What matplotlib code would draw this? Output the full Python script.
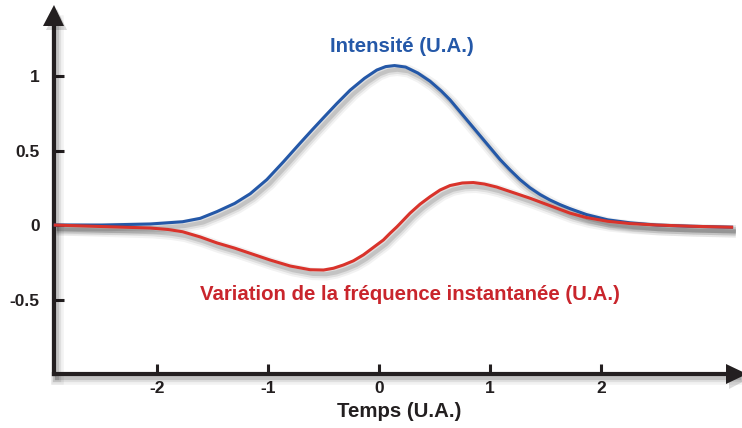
import matplotlib
matplotlib.use("Agg")
import matplotlib.pyplot as plt
import matplotlib.patheffects as pe

# values (time in U.A.)
t_intensity = [-2.93, -2.5, -2.06, -1.77, -1.61, -1.46, -1.30, -1.16, -1.01, -0.86, -0.71,
               -0.60, -0.50, -0.38, -0.26, -0.13, -0.02, 0.06, 0.14, 0.24, 0.35, 0.46, 0.56,
               0.64, 0.73, 0.82, 0.91, 1.00, 1.09, 1.18, 1.27, 1.36, 1.45, 1.54, 1.63, 1.72,
               1.87, 2.06, 2.26, 2.5, 2.8, 3.19]
intensity = [0.0, 0.0, 0.007, 0.022, 0.045, 0.09, 0.145, 0.21, 0.305, 0.425, 0.55,
             0.64, 0.72, 0.815, 0.905, 0.985, 1.04, 1.063, 1.07, 1.06, 1.02, 0.965, 0.90,
             0.84, 0.76, 0.68, 0.60, 0.52, 0.44, 0.37, 0.305, 0.25, 0.205, 0.168, 0.137, 0.11,
             0.07, 0.035, 0.015, 0.0, -0.008, -0.015]

t_freq = [-2.93, -2.5, -2.06, -1.90, -1.77, -1.61, -1.46, -1.30, -1.16, -0.98, -0.80, -0.62,
          -0.50, -0.41, -0.32, -0.23, -0.14, -0.05, 0.04, 0.10, 0.16, 0.19, 0.28, 0.37, 0.46,
          0.55, 0.64, 0.75, 0.85, 0.95, 1.06, 1.20, 1.36, 1.54, 1.72, 1.87, 2.06, 2.26, 2.5,
          2.8, 3.19]
freq = [0.0, -0.01, -0.02, -0.03, -0.045, -0.08, -0.12, -0.155, -0.19, -0.235, -0.275, -0.300,
        -0.302, -0.29, -0.268, -0.24, -0.20, -0.15, -0.10, -0.055, -0.013, 0.01, 0.08, 0.14, 0.19,
        0.235, 0.265, 0.282, 0.285, 0.275, 0.255, 0.22, 0.18, 0.13, 0.08, 0.05, 0.025, 0.01, 0.0,
        -0.008, -0.015]

xticks = [-2, -1, 0, 1, 2]
xtick_labels = ["-2", "-1", "0", "1", "2"]
yticks = [-0.5, 0, 0.5, 1]
ytick_labels = ["-0.5", "0", "0.5", "1"]

BLUE = "#2458a8"
RED = "#d9332b"
RED_TXT = "#c9252c"
INK = "#231f20"

plt.rcParams["font.family"] = ["Liberation Sans", "DejaVu Sans"]
plt.rcParams["font.weight"] = "bold"


def shadow():
    return [pe.SimpleLineShadow(offset=(2, -3), shadow_color="k", alpha=0.05, linewidth=9),
            pe.SimpleLineShadow(offset=(2, -3), shadow_color="k", alpha=0.08, linewidth=6),
            pe.SimpleLineShadow(offset=(2, -3), shadow_color="k", alpha=0.12, linewidth=3),
            pe.Normal()]


fig = plt.figure(figsize=(7.42, 4.28), dpi=100)
ax = fig.add_axes([0, 0, 1, 1])
ax.set_xlim(-3.414, 3.270)
ax.set_ylim(-1.362, 1.510)

ax.plot(t_intensity, intensity, color=BLUE, lw=2.2, path_effects=shadow(), zorder=3,
        solid_capstyle="butt", solid_joinstyle="round")
ax.plot(t_freq, freq, color=RED, lw=2.2, path_effects=shadow(), zorder=4,
        solid_capstyle="butt", solid_joinstyle="round")

# axes as spines positioned in data coords
for s in ["top", "right"]:
    ax.spines[s].set_visible(False)
ax.spines["left"].set_position(("data", -2.93))
ax.spines["bottom"].set_position(("data", -1.0))
ax.spines["left"].set_bounds(-1.0, 1.40)
ax.spines["bottom"].set_bounds(-2.93, 3.22)
for s in ["left", "bottom"]:
    ax.spines[s].set_linewidth(3)
    ax.spines[s].set_color(INK)
    ax.spines[s].set_capstyle("projecting")
    ax.spines[s].set_path_effects(shadow())

# arrow heads
ax.plot([-2.93], [1.405], marker="^", ms=15, color=INK, mew=0, clip_on=False, zorder=5,
        path_effects=[pe.SimplePatchShadow(offset=(2, -3), alpha=0.15), pe.Normal()])
ax.plot([3.22], [-1.0], marker=">", ms=15, color=INK, mew=0, clip_on=False, zorder=5,
        path_effects=[pe.SimplePatchShadow(offset=(2, -3), alpha=0.15), pe.Normal()])

ax.set_xticks(xticks)
ax.set_xticklabels(xtick_labels)
ax.set_yticks(yticks)
ax.set_yticklabels(ytick_labels)
ax.tick_params(axis="both", direction="in", length=7, width=2.2, color=INK,
               labelsize=12.5, labelcolor=INK)
ax.tick_params(axis="x", pad=5)
ax.tick_params(axis="y", pad=10)
for lab in ax.get_xticklabels() + ax.get_yticklabels():
    lab.set_fontweight("bold")

ax.text(0.207, 1.195, "Intensité (U.A.)", color=BLUE, fontsize=14.7, fontweight="bold",
        ha="center", va="center")
ax.text(0.275, -0.463, "Variation de la fréquence instantanée (U.A.)", color=RED_TXT,
        fontsize=14.7, fontweight="bold", ha="center", va="center")
ax.text(0.18, -1.248, "Temps (U.A.)", color=INK, fontsize=14.7, fontweight="bold",
        ha="center", va="center")

fig.savefig("out.png", dpi=100)
